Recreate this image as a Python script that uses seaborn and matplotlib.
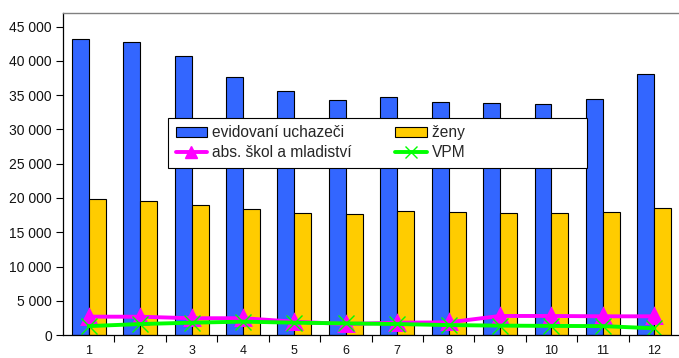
import numpy as np
import pandas as pd
import matplotlib
matplotlib.use("Agg")
import matplotlib.pyplot as plt
from matplotlib.patches import Patch
from matplotlib.lines import Line2D
from matplotlib.ticker import FuncFormatter, FixedLocator
import seaborn as sns

# data
mesice = [str(i) for i in range(1, 13)]
uchazeci = [43250, 42800, 40750, 37700, 35650, 34350, 34750, 34050, 33900, 33750, 34500, 38150]
zeny = [19830, 19530, 19000, 18380, 17880, 17630, 18070, 17970, 17820, 17780, 17970, 18520]
absolventi = [2680, 2670, 2450, 2450, 1950, 1600, 1800, 1850, 2780, 2780, 2730, 2730]
vpm = [1300, 1600, 1800, 1950, 1800, 1700, 1600, 1450, 1370, 1330, 1300, 980]

c_uch = '#3366FF'
c_zeny = '#FFCC00'
c_abs = '#FF00FF'
c_vpm = '#00FF00'

sns.set_style("white")
plt.rcParams['font.family'] = ['Liberation Sans', 'DejaVu Sans']

bars = pd.DataFrame({
    'mesic': mesice * 2,
    'pocet': uchazeci + zeny,
    'skupina': ['evidovaní uchazeči'] * 12 + ['ženy'] * 12,
})
lines = pd.DataFrame({'mesic': mesice, 'abs': absolventi, 'vpm': vpm})

fig = plt.figure(figsize=(6.79, 3.58), dpi=100)
ax = fig.add_axes([0.0928, 0.0642, 0.9087, 0.8995])

sns.barplot(data=bars, x='mesic', y='pocet', hue='skupina',
            palette=[c_uch, c_zeny], width=0.66, edgecolor='black',
            linewidth=0.8, saturation=1, legend=False, ax=ax)

# lines on top of bars
sns.pointplot(data=lines, x='mesic', y='abs', color=c_abs, markers='^',
              markersize=10, linewidth=2.8, errorbar=None, ax=ax)
sns.pointplot(data=lines, x='mesic', y='vpm', color=c_vpm, markers='x',
              markersize=11, markeredgewidth=1.0, linewidth=2.8, errorbar=None, ax=ax)

ax.set_xlim(-0.5, 11.5)
ax.set_ylim(0, 47000)
ax.set_xlabel('')
ax.set_ylabel('')

ax.yaxis.set_major_locator(FixedLocator(np.arange(0, 45001, 5000)))
ax.yaxis.set_major_formatter(FuncFormatter(lambda v, p: f'{int(v):,}'.replace(',', ' ')))
ax.tick_params(axis='y', which='major', left=True, length=5, width=0.8,
               labelsize=10, pad=3, color='black', labelcolor='#111111')

# x: labels in category centres, tick marks on boundaries
ax.set_xticks(range(12))
ax.set_xticklabels(mesice)
ax.set_xticks(np.arange(0.5, 11.5, 1), minor=True)
ax.tick_params(axis='x', which='major', bottom=False, labelsize=9, pad=4,
               labelcolor='#111111')
ax.tick_params(axis='x', which='minor', bottom=True, length=5, width=0.8, color='black')

for s in ['left', 'bottom']:
    ax.spines[s].set_color('black')
    ax.spines[s].set_linewidth(0.9)
ax.spines['top'].set_color('#808080')
ax.spines['top'].set_linewidth(1.0)
ax.spines['right'].set_visible(False)

handles = [
    Patch(facecolor=c_uch, edgecolor='black', linewidth=0.8, label='evidovaní uchazeči'),
    Line2D([], [], color=c_abs, marker='^', markersize=8, linewidth=2.8, label='abs. škol a mladiství'),
    Patch(facecolor=c_zeny, edgecolor='black', linewidth=0.8, label='ženy' + ' ' * 27),
    Line2D([], [], color=c_vpm, marker='x', markersize=9, markeredgewidth=1.0,
           linewidth=2.8, label='VPM'),
]
leg = ax.legend(handles=handles, ncol=2, loc='upper left', bbox_to_anchor=(0.17, 0.675),
                frameon=True, fancybox=False, shadow=False, framealpha=1,
                fontsize=11.2, borderpad=0.5, handlelength=2.0, handletextpad=0.35,
                columnspacing=2.8, labelspacing=0.3, borderaxespad=0)
leg.get_frame().set_edgecolor('black')
leg.get_frame().set_linewidth(0.8)

fig.savefig('out.png', dpi=100)
